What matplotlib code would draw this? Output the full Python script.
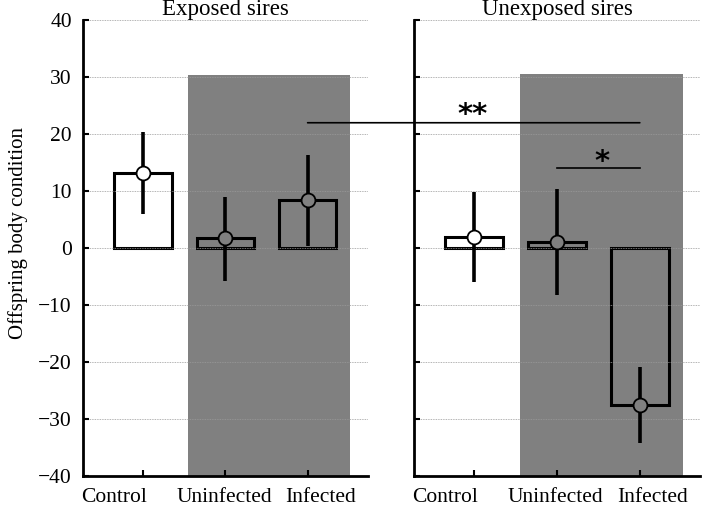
import matplotlib.pyplot as plt
from matplotlib.patches import Rectangle, ConnectionPatch
from matplotlib.transforms import ScaledTranslation

plt.rcParams['font.family'] = ['Liberation Serif', 'DejaVu Serif']

groups = ["Control", "Uninfected", "Infected"]
panels = ["Exposed sires", "Unexposed sires"]

exposed_mean = [13.1, 1.7, 8.4]
exposed_upper = [20.3, 9.0, 16.4]
exposed_lower = [5.9, -5.7, 0.3]

unexposed_mean = [2.0, 1.1, -27.5]
unexposed_upper = [9.9, 10.3, -20.9]
unexposed_lower = [-6.0, -8.2, -34.2]

gray = "#808080"
fills = ["white", gray, gray]
# horizontal nudge of the category labels, in points
label_shift = [-21, -1, 9]

fig = plt.figure(figsize=(7.03, 5.11), dpi=100)
ax1 = fig.add_axes([0.118, 0.0685, 0.405, 0.892])
ax2 = fig.add_axes([0.589, 0.0685, 0.407, 0.892])

data = [(exposed_mean, exposed_upper, exposed_lower, 30.3),
        (unexposed_mean, unexposed_upper, unexposed_lower, 30.5)]

for ax, title, (mean, up, lo, shade_top) in zip([ax1, ax2], panels, data):
    x = list(range(len(groups)))
    ax.set_xlim(-0.73, 2.73)
    ax.set_ylim(-40, 40)
    # shaded infected-sire block
    ax.add_patch(Rectangle((0.55, -40), 1.97, shade_top + 40,
                           facecolor=gray, edgecolor="none", zorder=0))
    ax.set_yticks(range(-40, 41, 10))
    ax.yaxis.grid(True, color="#9a9a9a", lw=0.6, ls=(0, (1, 1)), zorder=0.5)
    ax.set_axisbelow(False)
    ax.bar(x, mean, width=0.7, color=fills, edgecolor="black",
           linewidth=2.2, zorder=2)
    for xi, m, u, l, fc in zip(x, mean, up, lo, fills):
        ax.plot([xi, xi], [l, u], color="black", lw=2.6, zorder=3,
                solid_capstyle="butt")
        ax.plot(xi, m, "o", ms=10, mfc=fc, mec="black", mew=1.3, zorder=4)
    for s in ["top", "right"]:
        ax.spines[s].set_visible(False)
    for s in ["left", "bottom"]:
        ax.spines[s].set_linewidth(2)
    ax.tick_params(direction="in", length=4, width=1.5, labelsize=15.5,
                   pad=8)
    ax.tick_params(axis="x", pad=9)
    ax.set_xticks(x)
    ax.set_xticklabels(groups, fontsize=15.5)
    for lab, dx in zip(ax.get_xticklabels(), label_shift):
        lab.set_transform(lab.get_transform() +
                          ScaledTranslation(dx / 72, 0, fig.dpi_scale_trans))
    ax.set_title(title, fontsize=16.5, pad=0.5)

ax2.tick_params(axis="y", labelleft=False)
ax1.set_ylabel("Offspring body condition", fontsize=15)
ax1.yaxis.set_label_coords(-0.193, 0.533)

# significance bars
con = ConnectionPatch(xyA=(2, 22), coordsA=ax1.transData,
                      xyB=(2, 22), coordsB=ax2.transData,
                      color="black", lw=1.2, zorder=5)
fig.add_artist(con)
ax2.text(-0.02, 23.9, "**", fontsize=21, fontweight="bold",
         family="DejaVu Sans", ha="center", va="center_baseline", zorder=5)
ax2.plot([1, 2], [14, 14], color="black", lw=1.2, zorder=5)
ax2.text(1.54, 15.7, "*", fontsize=21, fontweight="bold",
         family="DejaVu Sans", ha="center", va="center_baseline", zorder=5)

plt.savefig("out.png", dpi=100)
